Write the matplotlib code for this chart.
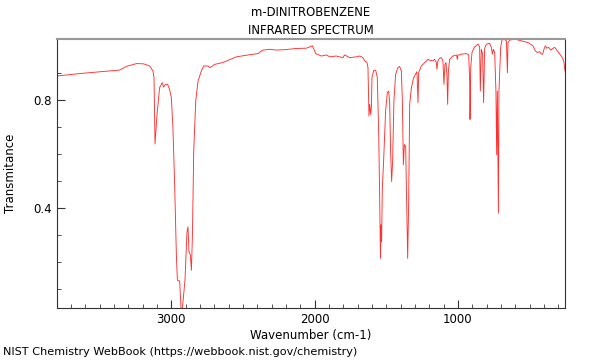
import numpy as np
import matplotlib
matplotlib.use('Agg')
import matplotlib.pyplot as plt

# spectrum (wavenumber in cm-1, transmittance)
wavenumber = [3798, 3640, 3382, 3361, 3312, 3242, 3193, 3151, 3128, 3121, 3114, 3100, 3091,
              3082, 3063, 3054, 3040, 3026, 3012, 3000, 2989, 2977, 2965, 2958, 2942, 2930,
              2919, 2905, 2891, 2884, 2877, 2867, 2860, 2853, 2844, 2830, 2814, 2791, 2775,
              2745, 2728, 2698, 2640, 2546, 2465, 2396, 2361, 2314, 2267, 2198, 2128, 2058,
              2035, 2016, 2005, 1993, 1953, 1918, 1895, 1849, 1803, 1791, 1756, 1709, 1686,
              1663, 1651, 1635, 1628, 1621, 1616, 1609, 1604, 1600, 1588, 1574, 1563, 1553,
              1546, 1541, 1537, 1533, 1528, 1519, 1505, 1493, 1484, 1477, 1470, 1463, 1456,
              1447, 1435, 1419, 1407, 1395, 1388, 1381, 1374, 1365, 1358, 1351, 1344, 1337,
              1325, 1309, 1286, 1279, 1274, 1256, 1232, 1209, 1197, 1174, 1163, 1151, 1147,
              1140, 1128, 1116, 1105, 1098, 1091, 1084, 1077, 1072, 1067, 1058, 1035, 1011,
              1004, 1000, 976, 941, 925, 918, 916, 911, 902, 884, 860, 849, 844, 837, 828,
              821, 814, 802, 779, 767, 760, 753, 744, 735, 730, 725, 718, 714, 702, 693,
              679, 662, 655, 651, 639, 604, 557, 512, 477, 460, 446, 430, 418, 409, 400,
              390, 381, 367, 353, 339, 325, 290, 271, 260, 253]
transmittance = [0.888, 0.897, 0.909, 0.910, 0.924, 0.934, 0.933, 0.925, 0.906, 0.882, 0.636, 0.745, 0.795,
                 0.845, 0.863, 0.847, 0.857, 0.857, 0.838, 0.807, 0.696, 0.485, 0.224, 0.131, 0.128, 0.0,
                 0.050, 0.131, 0.310, 0.329, 0.236, 0.224, 0.168, 0.298, 0.609, 0.795, 0.869, 0.906, 0.925,
                 0.925, 0.919, 0.931, 0.938, 0.959, 0.966, 0.971, 0.984, 0.987, 0.984, 0.986, 0.990, 0.991,
                 0.996, 1.000, 0.987, 0.971, 0.962, 0.966, 0.959, 0.962, 0.956, 0.966, 0.956, 0.959, 0.962,
                 0.956, 0.944, 0.938, 0.919, 0.739, 0.783, 0.745, 0.776, 0.882, 0.909, 0.909, 0.882, 0.671,
                 0.422, 0.212, 0.336, 0.273, 0.472, 0.571, 0.758, 0.826, 0.832, 0.795, 0.609, 0.497, 0.571,
                 0.795, 0.894, 0.919, 0.923, 0.906, 0.795, 0.559, 0.634, 0.627, 0.422, 0.212, 0.422, 0.783,
                 0.845, 0.882, 0.904, 0.789, 0.900, 0.925, 0.938, 0.950, 0.946, 0.944, 0.950, 0.938, 0.913,
                 0.944, 0.954, 0.956, 0.944, 0.857, 0.931, 0.938, 0.894, 0.783, 0.906, 0.950, 0.962, 0.966,
                 0.950, 0.965, 0.969, 0.971, 0.966, 0.863, 0.727, 0.919, 0.975, 0.996, 1.006, 0.996, 0.832, 0.987, 0.969,
                 0.789, 0.990, 1.006, 1.009, 0.994, 0.969, 0.987, 0.975, 0.832, 0.596, 0.832, 0.379, 0.832, 0.994, 1.021,
                 1.025, 1.018, 0.900, 1.012, 1.021, 1.025, 1.018, 1.012, 1.000, 0.981, 0.975, 0.978, 0.969, 0.969, 0.987,
                 1.000, 0.991, 0.994, 0.984, 0.990, 0.994, 0.969, 0.956, 0.938, 0.906]

fig = plt.figure(figsize=(6, 3.6), dpi=100)
ax = fig.add_axes([0.095, 0.1444, 0.8467, 0.7472])

ax.plot(wavenumber, transmittance, color='#ff3030', lw=0.65)

ax.set_xlim(3798, 253)
ax.set_ylim(0.028, 1.025)

ax.set_xticks([3000, 2000, 1000])
ax.set_xticks([w for w in range(300, 3800, 100) if w % 1000], minor=True)
ax.set_yticks([0.4, 0.8])
ax.set_yticks([0.1, 0.2, 0.3, 0.5, 0.6, 0.7, 0.9], minor=True)
ax.tick_params(which='both', direction='in', labelsize=8.5, color='#333333')
ax.tick_params(which='major', length=6)
ax.tick_params(which='minor', length=3)

for s in ax.spines.values():
    s.set_color('#333333')
    s.set_linewidth(0.8)
ax.spines['top'].set_color('#999999')
ax.spines['top'].set_linewidth(1.5)

ax.set_xlabel('Wavenumber (cm-1)', fontsize=8.5, labelpad=2)
ax.set_ylabel('Transmitance', fontsize=8.5, labelpad=12)

fig.text(311/600, 1 - 12/360, 'm-DINITROBENZENE', ha='center', va='center', fontsize=8.4)
fig.text(311/600, 1 - 30/360, 'INFRARED SPECTRUM', ha='center', va='center', fontsize=8.4)
fig.text(0.005, 1 - 352/360, 'NIST Chemistry WebBook (https://webbook.nist.gov/chemistry)',
         ha='left', va='center', fontsize=8.1)

fig.savefig('out.png', dpi=100)
